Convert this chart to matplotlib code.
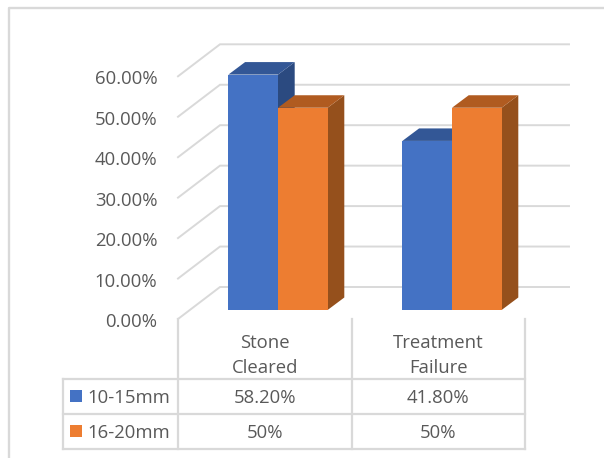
import matplotlib
matplotlib.use("Agg")
import matplotlib.pyplot as plt
from matplotlib.patches import Polygon, Rectangle

categories = [["Stone", "Cleared"], ["Treatment", "Failure"]]
series_names = ["10-15mm", "16-20mm"]
values_small = [58.2, 41.8]
values_large = [50.0, 50.0]
cell_small = ["58.20%", "41.80%"]
cell_large = ["50%", "50%"]
axis_ticks = [0, 10, 20, 30, 40, 50, 60]

plt.rcParams["font.family"] = ["Open Sans", "DejaVu Sans"]
TEXT = "#595959"
GRID = "#D9D9D9"
FS = 13.3

fig = plt.figure(figsize=(6.04, 4.58), dpi=100)
ax = fig.add_axes([0, 0, 1, 1])
ax.set_xlim(0, 604)
ax.set_ylim(458, 0)
ax.axis("off")

# chart-area frame, running off the right and bottom
ax.plot([9, 9, 604], [458, 8, 8], color=GRID, lw=1.7, solid_capstyle="butt")

# 3D layout of the plot box in figure pixels
X0, Y0 = 178.0, 319.0       # front of the floor at value 0
PER_UNIT = 4.045            # pixels per percentage point
WALL_DX, WALL_DY = 42.0, 32.0
X_END = 569.0
BAR_SHIFT_X, BAR_SHIFT_Y = 0.0, 9.0
DEPTH_X, DEPTH_Y = 16.7, 12.5
BAR_W = 49.6
GROUP_W = 174.0
BAR_START = 228.4


def y_of(v):
    return Y0 - v * PER_UNIT


for t in axis_ticks:
    yf = y_of(t)
    yb = yf - WALL_DY
    ax.plot([X0, X0 + WALL_DX, X_END], [yf, yb, yb], color=GRID, lw=1.4,
            solid_joinstyle="miter", zorder=1)
    ax.text(157.5, yf + 3, f"{t:.2f}%", ha="right", va="center",
            color=TEXT, fontsize=FS)


def bar(x, v, front, top, side):
    base = Y0 - BAR_SHIFT_Y
    ytop = base - v * PER_UNIT
    x2 = x + BAR_W
    ax.add_patch(Polygon([(x2, base), (x2 + DEPTH_X, base - DEPTH_Y),
                          (x2 + DEPTH_X, ytop - DEPTH_Y), (x2, ytop)],
                         fc=side, ec="none", zorder=2))
    ax.add_patch(Polygon([(x, ytop), (x + DEPTH_X, ytop - DEPTH_Y),
                          (x2 + DEPTH_X, ytop - DEPTH_Y), (x2, ytop)],
                         fc=top, ec="none", zorder=2))
    ax.add_patch(Rectangle((x, ytop), BAR_W, v * PER_UNIT, fc=front,
                           ec="none", zorder=2))


BLUE = ("#4472C4", "#335796", "#2B4A80")
ORANGE = ("#ED7D31", "#B05B20", "#95501C")
for i in range(len(categories)):
    x = BAR_START + i * GROUP_W
    bar(x, values_small[i], *BLUE)
    bar(x + BAR_W, values_large[i], *ORANGE)

# data table below the plot
COLS = [62.5, 178.0, 351.5, 525.0]
ROWS = [379.0, 414.0, 449.0]
for xv in COLS[1:]:
    ax.plot([xv, xv], [Y0, ROWS[-1]], color=GRID, lw=1.6, zorder=1)
ax.plot([COLS[0], COLS[0]], [ROWS[0], ROWS[-1]], color=GRID, lw=1.6, zorder=1)
for yv in ROWS:
    ax.plot([COLS[0], COLS[-1]], [yv, yv], color=GRID, lw=1.6, zorder=1)

for i, lines in enumerate(categories):
    cx = (COLS[i + 1] + COLS[i + 2]) / 2
    ax.text(cx, 342.5, lines[0], ha="center", va="center", color=TEXT, fontsize=FS)
    ax.text(cx, 368, lines[1], ha="center", va="center", color=TEXT, fontsize=FS)

row_cells = [cell_small, cell_large]
swatches = [BLUE[0], ORANGE[0]]
for r, name in enumerate(series_names):
    cy = (ROWS[r] + ROWS[r + 1]) / 2
    ax.add_patch(Rectangle((70, cy - 6.5), 12, 12, fc=swatches[r], ec="none", zorder=3))
    ax.text(87.5, cy + 1.5, name, ha="left", va="center", color=TEXT, fontsize=FS)
    for c, label in enumerate(row_cells[r]):
        cx = (COLS[c + 1] + COLS[c + 2]) / 2
        ax.text(cx, cy + 1.5, label, ha="center", va="center", color=TEXT, fontsize=FS)

fig.savefig("out.png", dpi=100, facecolor="white")
